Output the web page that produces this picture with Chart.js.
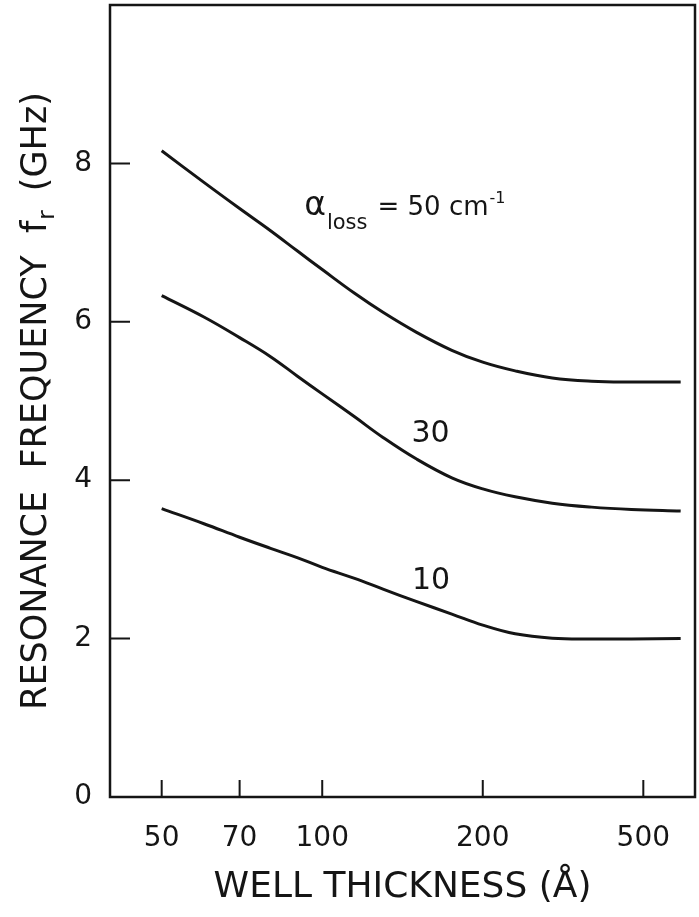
<!DOCTYPE html>
<html>
<head>
<meta charset="utf-8">
<script src="https://cdn.jsdelivr.net/npm/chart.js@4.4.1/dist/chart.umd.min.js"></script>
<style>
  html, body { margin: 0; padding: 0; background: #fff; }
  #wrap { width: 699px; height: 917px; }
</style>
</head>
<body>
<div id="wrap"><canvas id="fig"></canvas></div>
<script>
// well thickness in angstrom
const thickness = [50, 60, 70, 80, 90, 100, 115, 130, 150, 175, 200, 230, 270, 320, 380, 470];

// resonance frequency f_r (GHz) for each loss value
const fr50 = [8.16, 7.76, 7.43, 7.15, 6.89, 6.66, 6.36, 6.12, 5.87, 5.64, 5.49, 5.38, 5.29, 5.25, 5.24, 5.24];
const fr30 = [6.33, 6.06, 5.80, 5.56, 5.31, 5.09, 4.80, 4.54, 4.27, 4.03, 3.89, 3.79, 3.71, 3.66, 3.63, 3.61];
const fr10 = [3.64, 3.45, 3.28, 3.14, 3.02, 2.90, 2.76, 2.625, 2.47, 2.31, 2.17, 2.06, 2.005, 1.995, 1.995, 2.00];

// axis marks; the printed scale puts its "500" mark one doubling past 200
const xTickPos = [50, 70, 100, 200, 400];
const xTickLabels = ["50", "70", "100", "200", "500"];
const yTicks = [0, 2, 4, 6, 8];

const INK = "#151515";
const FONT = "'DejaVu Sans', sans-serif";

function pts(ys) {
  return thickness.map((x, i) => ({ x: x, y: ys[i] }));
}

function curve(label, ys) {
  return {
    label: label,
    data: pts(ys),
    borderColor: INK,
    borderWidth: 3,
    pointRadius: 0,
    fill: false,
    tension: 0.4,
  };
}

// draw a run of text pieces (size, dy, text) left to right from x, y
function drawRuns(ctx, x, y, runs) {
  let cx = x;
  runs.forEach((r) => {
    ctx.font = r.size + "px " + FONT;
    ctx.fillText(r.text, cx, y + r.dy);
    cx += ctx.measureText(r.text).width + (r.gap || 0);
  });
  return cx - x;
}

function runsWidth(ctx, runs) {
  let w = 0;
  runs.forEach((r) => {
    ctx.font = r.size + "px " + FONT;
    w += ctx.measureText(r.text).width + (r.gap || 0);
  });
  return w;
}

const framePlugin = {
  id: "frame",
  afterDatasetsDraw(chart) {
    const { ctx, chartArea: a, scales } = chart;
    ctx.save();
    ctx.strokeStyle = INK;

    // box around the plot
    ctx.lineWidth = 2.5;
    ctx.strokeRect(a.left, a.top, a.right - a.left, a.bottom - a.top);

    // inward tick marks
    ctx.lineWidth = 2;
    ctx.beginPath();
    scales.x.ticks.forEach((t) => {
      const px = scales.x.getPixelForValue(t.value);
      ctx.moveTo(px, a.bottom);
      ctx.lineTo(px, a.bottom - 17);
    });
    scales.y.ticks.forEach((t) => {
      if (t.value === 0) return;
      const py = scales.y.getPixelForValue(t.value);
      ctx.moveTo(a.left, py);
      ctx.lineTo(a.left + 20, py);
    });
    ctx.stroke();

    ctx.fillStyle = INK;
    ctx.textBaseline = "alphabetic";

    // curve labels
    const lx = scales.x.getPixelForValue(92.5);
    const ly = scales.y.getPixelForValue(7.35);
    drawRuns(ctx, lx, ly, [
      { text: "\u03b1", size: 33, dy: 0, gap: 1 },
      { text: "loss", size: 21, dy: 14, gap: 10 },
      { text: "= 50 cm", size: 26, dy: 0, gap: 1 },
      { text: "-1", size: 16, dy: -12 },
    ]);

    ctx.font = "30px " + FONT;
    ctx.textAlign = "center";
    ctx.textBaseline = "middle";
    ctx.fillText("30", scales.x.getPixelForValue(159.6), scales.y.getPixelForValue(4.58));
    ctx.fillText("10", scales.x.getPixelForValue(160), scales.y.getPixelForValue(2.73));

    // vertical axis title with subscript r
    const runs = [
      { text: "RESONANCE  FREQUENCY  f", size: 35, dy: 0, gap: 1 },
      { text: "r", size: 23, dy: 8, gap: 8 },
      { text: " (GHz)", size: 35, dy: 0 },
    ];
    ctx.textAlign = "left";
    ctx.textBaseline = "alphabetic";
    const w = runsWidth(ctx, runs);
    ctx.translate(46, (a.top + a.bottom) / 2);
    ctx.rotate(-Math.PI / 2);
    drawRuns(ctx, -w / 2, 0, runs);
    ctx.restore();
  },
};

new Chart(document.getElementById("fig").getContext("2d"), {
  type: "line",
  data: {
    datasets: [curve("50", fr50), curve("30", fr30), curve("10", fr10)],
  },
  options: {
    responsive: true,
    maintainAspectRatio: false,
    animation: false,
    layout: { padding: { top: 5, right: 4, left: 0, bottom: 0 } },
    plugins: {
      legend: { display: false },
      tooltip: { enabled: false },
    },
    scales: {
      x: {
        type: "logarithmic",
        min: 40,
        max: 500,
        grid: { display: false },
        border: { display: false },
        afterBuildTicks: (scale) => {
          scale.ticks = xTickPos.map((v) => ({ value: v }));
        },
        afterFit: (scale) => {
          scale.height = 120;
          scale.paddingLeft = 0;
          scale.paddingRight = 0;
        },
        ticks: {
          autoSkip: false,
          maxRotation: 0,
          padding: 17,
          color: INK,
          font: { family: FONT, size: 28 },
          callback: (v) => xTickLabels[xTickPos.indexOf(v)],
        },
        title: {
          display: true,
          text: "WELL THICKNESS (\u00c5)",
          color: INK,
          font: { family: FONT, size: 36 },
          padding: { top: 0, bottom: 8 },
        },
      },
      y: {
        type: "linear",
        min: 0,
        max: 10,
        grid: { display: false },
        border: { display: false },
        afterBuildTicks: (scale) => {
          scale.ticks = yTicks.map((v) => ({ value: v }));
        },
        afterFit: (scale) => {
          scale.width = 110;
          scale.paddingTop = 0;
          scale.paddingBottom = 0;
        },
        ticks: {
          padding: 10,
          color: INK,
          font: { family: FONT, size: 28 },
        },
      },
    },
  },
  plugins: [framePlugin],
});
</script>
</body>
</html>
